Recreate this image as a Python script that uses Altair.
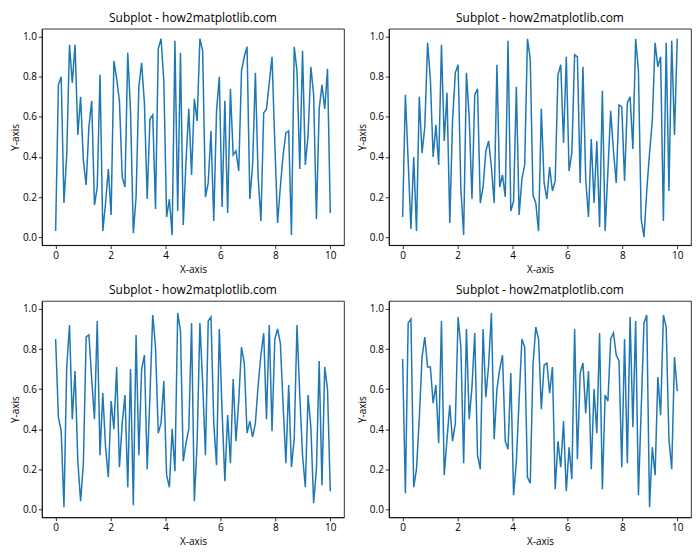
import altair as alt
import numpy as np
import pandas as pd

x_vals = list(np.linspace(0, 10, 100))

y1 = [0.03, 0.76, 0.80, 0.17, 0.41, 0.96, 0.77, 0.96, 0.51, 0.70,
      0.38, 0.26, 0.55, 0.68, 0.16, 0.25, 0.81, 0.03, 0.17, 0.34,
      0.11, 0.88, 0.79, 0.68, 0.30, 0.25, 0.92, 0.63, 0.02, 0.20,
      0.75, 0.87, 0.67, 0.19, 0.59, 0.61, 0.14, 0.94, 0.99, 0.78,
      0.10, 0.19, 0.01, 0.98, 0.13, 0.92, 0.06, 0.38, 0.64, 0.31,
      0.69, 0.58, 0.99, 0.93, 0.20, 0.27, 0.53, 0.08, 0.63, 0.80,
      0.15, 0.68, 0.12, 0.74, 0.41, 0.43, 0.33, 0.83, 0.90, 0.95,
      0.19, 0.36, 0.82, 0.30, 0.08, 0.62, 0.64, 0.77, 0.90, 0.47,
      0.07, 0.25, 0.41, 0.52, 0.53, 0.01, 0.95, 0.83, 0.34, 0.93,
      0.36, 0.51, 0.85, 0.71, 0.09, 0.64, 0.76, 0.64, 0.84, 0.12]

y2 = [0.10, 0.71, 0.38, 0.04, 0.40, 0.03, 0.70, 0.42, 0.55, 0.97,
      0.79, 0.40, 0.56, 0.36, 0.96, 0.48, 0.72, 0.07, 0.58, 0.82,
      0.86, 0.24, 0.01, 0.82, 0.60, 0.19, 0.71, 0.74, 0.17, 0.25,
      0.43, 0.48, 0.35, 0.17, 0.86, 0.25, 0.31, 0.20, 0.98, 0.13,
      0.18, 0.75, 0.11, 0.29, 0.36, 0.99, 0.89, 0.21, 0.17, 0.03,
      0.64, 0.27, 0.19, 0.35, 0.23, 0.28, 0.81, 0.86, 0.47, 0.90,
      0.33, 0.42, 0.91, 0.90, 0.27, 0.85, 0.29, 0.10, 0.49, 0.17,
      0.48, 0.05, 0.73, 0.03, 0.33, 0.63, 0.43, 0.27, 0.66, 0.65,
      0.28, 0.67, 0.70, 0.44, 0.99, 0.83, 0.09, 0.00, 0.23, 0.42,
      0.58, 0.97, 0.85, 0.90, 0.08, 0.97, 0.23, 0.98, 0.51, 0.99]

y3 = [0.85, 0.46, 0.39, 0.01, 0.71, 0.92, 0.45, 0.69, 0.24, 0.04,
      0.23, 0.86, 0.87, 0.65, 0.45, 0.94, 0.27, 0.58, 0.31, 0.16,
      0.54, 0.40, 0.71, 0.21, 0.43, 0.57, 0.11, 0.70, 0.02, 0.87,
      0.27, 0.70, 0.77, 0.20, 0.57, 0.97, 0.81, 0.38, 0.43, 0.64,
      0.17, 0.11, 0.40, 0.19, 0.98, 0.89, 0.24, 0.33, 0.40, 0.93,
      0.04, 0.33, 0.93, 0.63, 0.27, 0.94, 0.96, 0.43, 0.22, 0.90,
      0.49, 0.14, 0.47, 0.23, 0.65, 0.34, 0.54, 0.81, 0.73, 0.38,
      0.44, 0.36, 0.43, 0.62, 0.77, 0.88, 0.45, 0.92, 0.39, 0.85,
      0.90, 0.83, 0.52, 0.23, 0.62, 0.21, 0.35, 0.92, 0.57, 0.27,
      0.11, 0.57, 0.41, 0.03, 0.20, 0.74, 0.12, 0.71, 0.60, 0.09]

y4 = [0.75, 0.08, 0.93, 0.95, 0.11, 0.20, 0.45, 0.76, 0.86, 0.71,
      0.71, 0.53, 0.62, 0.33, 0.94, 0.17, 0.35, 0.52, 0.34, 0.43,
      0.96, 0.81, 0.23, 0.90, 0.45, 0.61, 0.88, 0.27, 0.20, 0.90,
      0.56, 0.72, 0.98, 0.35, 0.60, 0.70, 0.77, 0.34, 0.30, 0.68,
      0.07, 0.24, 0.55, 0.85, 0.81, 0.16, 0.13, 0.72, 0.91, 0.85,
      0.50, 0.72, 0.73, 0.58, 0.71, 0.10, 0.34, 0.21, 0.44, 0.09,
      0.31, 0.15, 0.90, 0.25, 0.68, 0.73, 0.48, 0.69, 0.20, 0.60,
      0.38, 0.88, 0.10, 0.57, 0.54, 0.85, 0.88, 0.77, 0.74, 0.21,
      0.85, 0.23, 0.96, 0.41, 0.94, 0.07, 0.50, 0.93, 0.97, 0.01,
      0.31, 0.17, 0.66, 0.47, 0.97, 0.91, 0.35, 0.20, 0.76, 0.59]

title_text = "Subplot - how2matplotlib.com"
x_ticks = [0, 2, 4, 6, 8, 10]
y_ticks = [0.0, 0.2, 0.4, 0.6, 0.8, 1.0]

FONT = "Open Sans"


def panel(vals):
    df = pd.DataFrame({"x": x_vals, "y": vals})
    return alt.Chart(df, title=title_text).mark_line(
        color="#1f77b4", strokeWidth=1.5, clip=True
    ).encode(
        x=alt.X("x:Q",
                scale=alt.Scale(domain=[-0.5, 10.5], nice=False, zero=False),
                axis=alt.Axis(title="X-axis", values=x_ticks, format="d")),
        y=alt.Y("y:Q",
                scale=alt.Scale(domain=[-0.04, 1.04], nice=False, zero=False),
                axis=alt.Axis(title="Y-axis", values=y_ticks, format=".1f",
                              titlePadding=2)),
    ).properties(width=303, height=217)


top = alt.hconcat(panel(y1), panel(y2), spacing=12)
bottom = alt.hconcat(panel(y3), panel(y4), spacing=12)

chart = alt.vconcat(top, bottom, spacing=8).properties(
    padding={"left": 2, "top": 2, "right": 0, "bottom": 0}
).configure_view(
    stroke="black", strokeWidth=0.8
).configure_axis(
    grid=False,
    domainColor="black", domainWidth=0.8,
    tickColor="black", tickWidth=0.8, tickSize=3.5,
    labelColor="black", labelFont=FONT, labelFontSize=10, labelPadding=2,
    titleColor="black", titleFont=FONT, titleFontSize=10,
    titleFontWeight="normal", titlePadding=4,
).configure_title(
    font=FONT, fontSize=12, fontWeight="normal", color="black", offset=4
)

chart.save("out.html", embed_options={"renderer": "svg", "actions": False})
